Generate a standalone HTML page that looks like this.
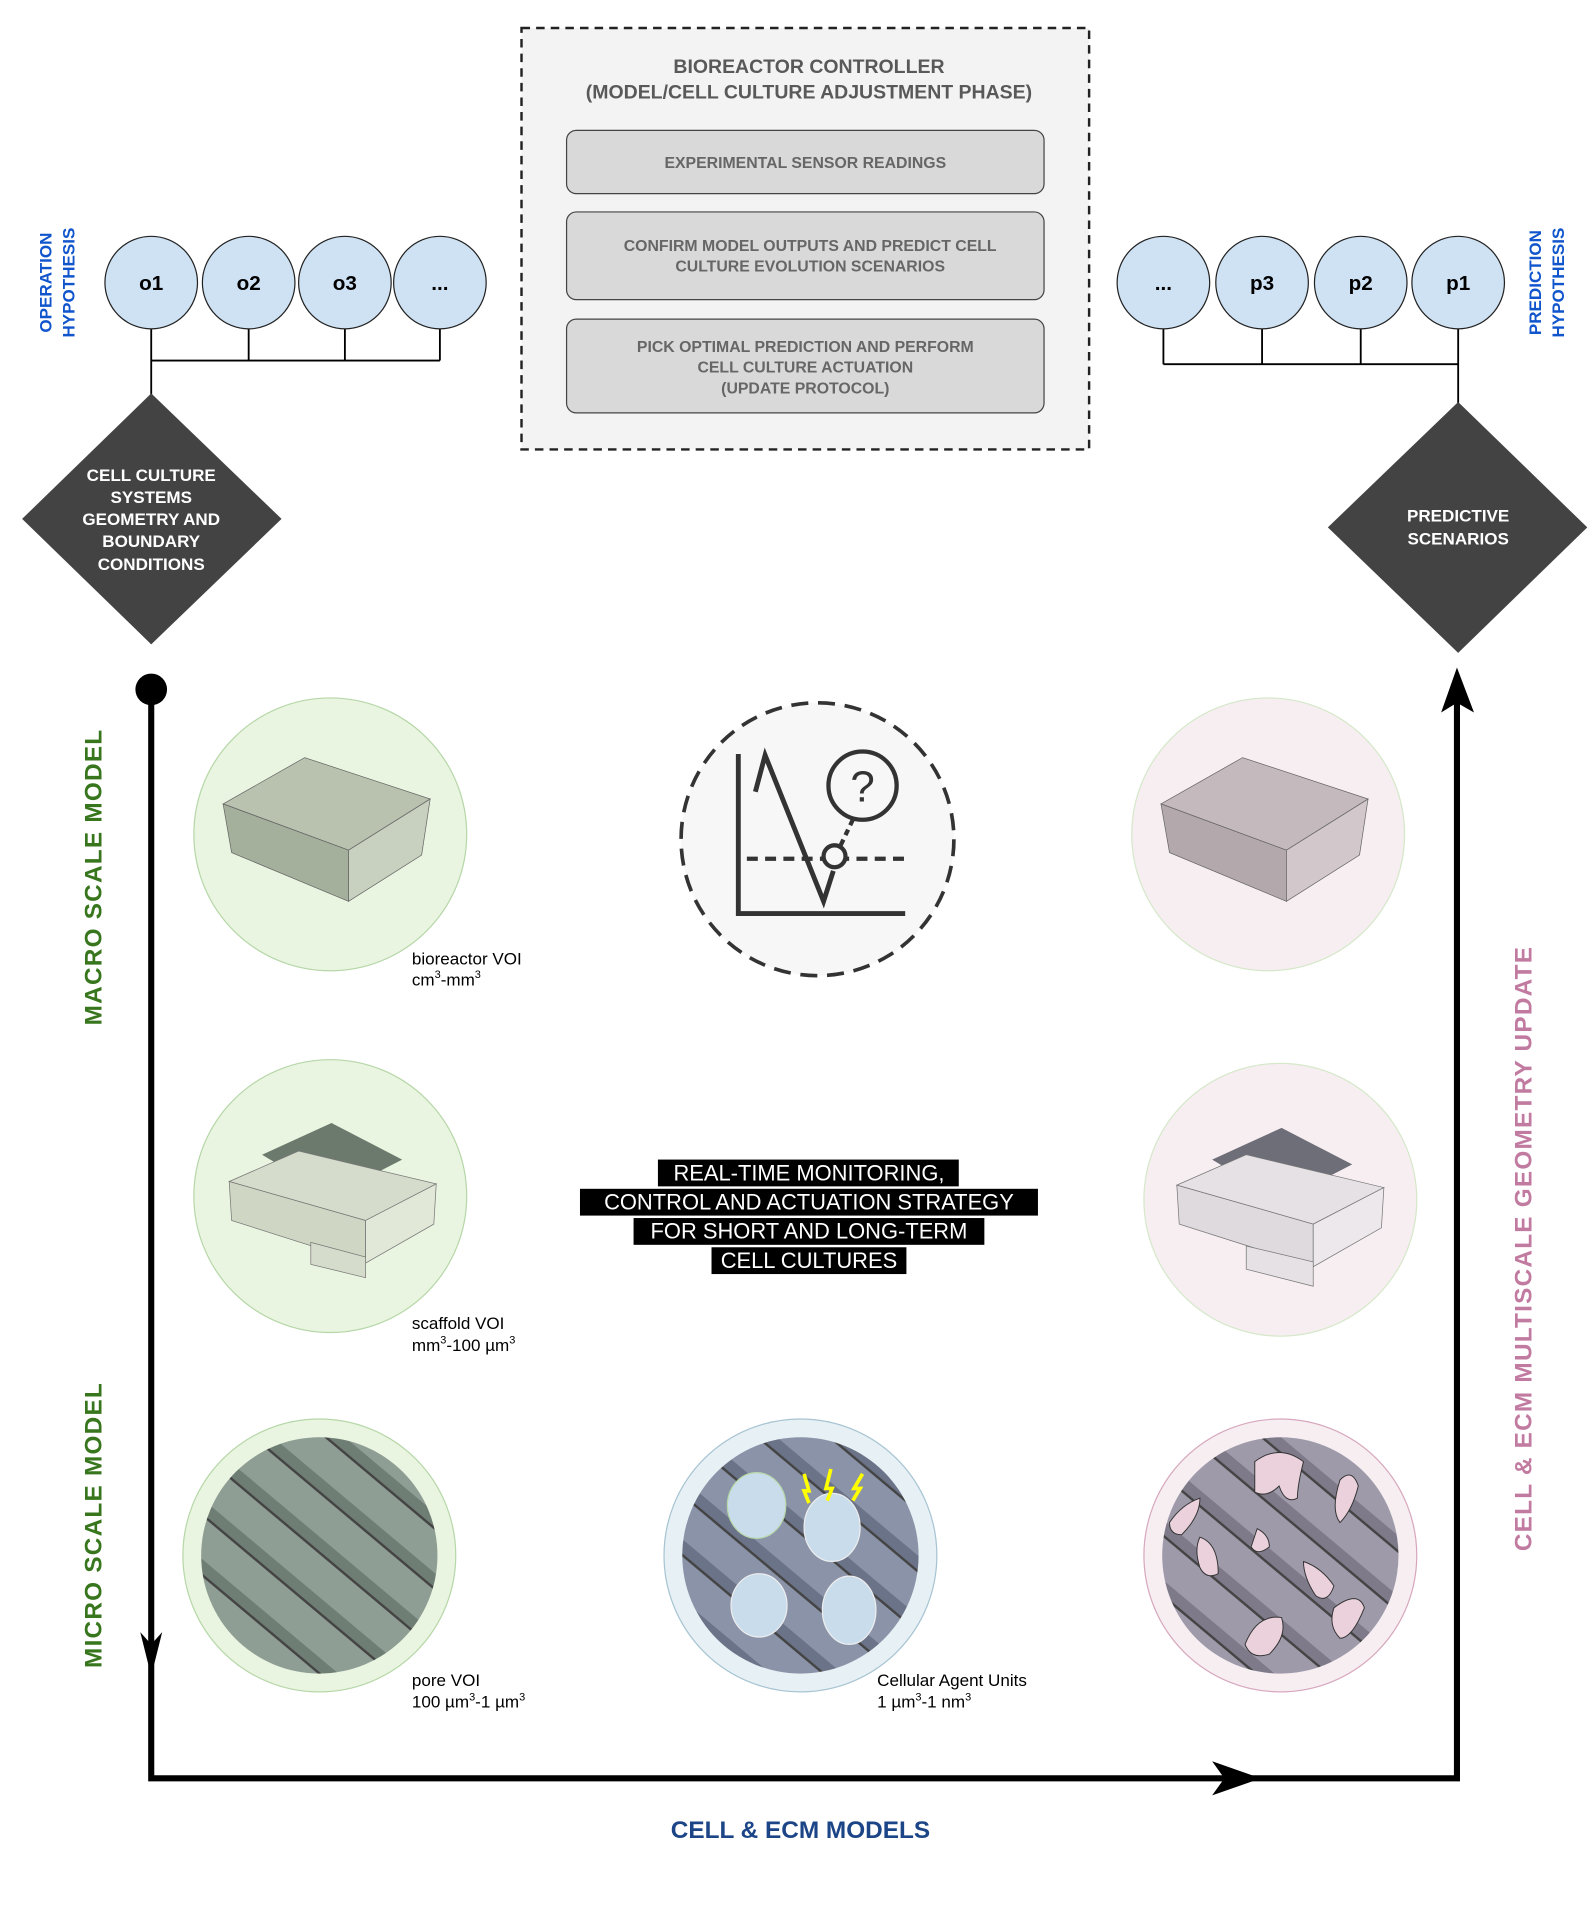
<!DOCTYPE html>
<html><head><meta charset="utf-8"><style>
html,body{margin:0;padding:0;background:#fff}
svg{display:block}
text{font-family:"Liberation Sans",sans-serif}
</style></head><body>
<svg width="1596" height="1905" viewBox="0 0 1310 1564" xmlns="http://www.w3.org/2000/svg">
<defs>
<pattern id="stripeG" width="38" height="38" patternUnits="userSpaceOnUse" patternTransform="rotate(40)">
<rect width="38" height="38" fill="#8f9e94"/><rect width="38" height="9" fill="#6f7e74"/><rect y="9" width="38" height="2" fill="#444"/></pattern>
<pattern id="stripeB" width="38" height="38" patternUnits="userSpaceOnUse" patternTransform="rotate(40)">
<rect width="38" height="38" fill="#8a93a8"/><rect width="38" height="9" fill="#6b7388"/><rect y="9" width="38" height="2" fill="#444"/></pattern>
<pattern id="stripeP" width="38" height="38" patternUnits="userSpaceOnUse" patternTransform="rotate(40)">
<rect width="38" height="38" fill="#9e9aaa"/><rect width="38" height="9" fill="#7e7a8a"/><rect y="9" width="38" height="2" fill="#444"/></pattern>
</defs>

<!-- controller box -->
<g>
<rect x="428" y="23" width="466" height="346" fill="#f3f3f3" stroke="#222" stroke-width="2" stroke-dasharray="7,5"/>
<text x="664" y="60" text-anchor="middle" font-size="16" font-weight="bold" fill="#595959">BIOREACTOR CONTROLLER</text>
<text x="664" y="81" text-anchor="middle" font-size="16" font-weight="bold" fill="#595959">(MODEL/CELL CULTURE ADJUSTMENT PHASE)</text>
<g>
<rect x="465" y="107" width="392" height="52" rx="8" fill="#d9d9d9" stroke="#444"/>
<text x="661" y="138" text-anchor="middle" font-size="13" font-weight="bold" fill="#666">EXPERIMENTAL SENSOR READINGS</text></g>
<g>
<rect x="465" y="174" width="392" height="72" rx="8" fill="#d9d9d9" stroke="#444"/>
<text x="665" y="206" text-anchor="middle" font-size="13" font-weight="bold" fill="#666">CONFIRM MODEL OUTPUTS AND PREDICT CELL</text>
<text x="665" y="223" text-anchor="middle" font-size="13" font-weight="bold" fill="#666">CULTURE EVOLUTION SCENARIOS</text></g>
<g>
<rect x="465" y="262" width="392" height="77" rx="8" fill="#d9d9d9" stroke="#444"/>
<text x="661" y="289" text-anchor="middle" font-size="13" font-weight="bold" fill="#666">PICK OPTIMAL PREDICTION AND PERFORM</text>
<text x="661" y="306" text-anchor="middle" font-size="13" font-weight="bold" fill="#666">CELL CULTURE ACTUATION</text>
<text x="661" y="323" text-anchor="middle" font-size="13" font-weight="bold" fill="#666">(UPDATE PROTOCOL)</text></g>
</g>

<!-- hypothesis labels -->
<text transform="translate(42,232) rotate(-90)" text-anchor="middle" font-size="14" font-weight="bold" fill="#1155cc">OPERATION</text>
<text transform="translate(61,232) rotate(-90)" text-anchor="middle" font-size="14" font-weight="bold" fill="#1155cc">HYPOTHESIS</text>
<text transform="translate(1265,232) rotate(-90)" text-anchor="middle" font-size="14" font-weight="bold" fill="#1155cc">PREDICTION</text>
<text transform="translate(1284,232) rotate(-90)" text-anchor="middle" font-size="14" font-weight="bold" fill="#1155cc">HYPOTHESIS</text>

<!-- connectors -->
<g stroke="#000" stroke-width="1.5" fill="none">
<path d="M124 270V296M204 270V296M283 270V296M361 270V296M124 296H361M124 296V325"/>
<path d="M955 270V299M1036 270V299M1117 270V299M1197 270V299M955 299H1197M1197 299V332"/>
</g>

<!-- operation nodes -->
<g font-size="17" font-weight="bold" text-anchor="middle">
<g><circle cx="124" cy="232" r="38" fill="#cfe2f3" stroke="#222"/><text x="124" y="238">o1</text></g>
<g><circle cx="204" cy="232" r="38" fill="#cfe2f3" stroke="#222"/><text x="204" y="238">o2</text></g>
<g><circle cx="283" cy="232" r="38" fill="#cfe2f3" stroke="#222"/><text x="283" y="238">o3</text></g>
<g><circle cx="361" cy="232" r="38" fill="#cfe2f3" stroke="#222"/><text x="361" y="238">...</text></g>
<g><circle cx="955" cy="232" r="38" fill="#cfe2f3" stroke="#222"/><text x="955" y="238">...</text></g>
<g><circle cx="1036" cy="232" r="38" fill="#cfe2f3" stroke="#222"/><text x="1036" y="238">p3</text></g>
<g><circle cx="1117" cy="232" r="38" fill="#cfe2f3" stroke="#222"/><text x="1117" y="238">p2</text></g>
<g><circle cx="1197" cy="232" r="38" fill="#cfe2f3" stroke="#222"/><text x="1197" y="238">p1</text></g>
</g>

<!-- diamonds -->
<g>
<polygon points="124,323 231,426 124,529 18,426" fill="#434343"/>
<g font-size="14" font-weight="bold" fill="#fff" text-anchor="middle">
<text x="124" y="395">CELL CULTURE</text><text x="124" y="413">SYSTEMS</text><text x="124" y="431">GEOMETRY AND</text><text x="124" y="449">BOUNDARY</text><text x="124" y="468">CONDITIONS</text></g></g>
<g>
<polygon points="1197,330 1303,433 1197,536 1090,433" fill="#434343"/>
<g font-size="14" font-weight="bold" fill="#fff" text-anchor="middle">
<text x="1197" y="428">PREDICTIVE</text><text x="1197" y="447">SCENARIOS</text></g></g>

<!-- main flow -->
<g>
<circle cx="124" cy="566" r="13" fill="#000"/>
<path d="M124 566V1460H1196V560" stroke="#000" stroke-width="5" fill="none"/>
<polygon points="115,1340 124,1376 133,1340 124,1350" fill="#000"/>
<polygon points="995,1446 1035,1460 995,1474 1005,1460" fill="#000"/>
<polygon points="1183,585 1196,548 1210,585 1196,577" fill="#000"/>
</g>

<text transform="translate(83,720) rotate(-90)" text-anchor="middle" font-size="20" font-weight="bold" fill="#38761d" letter-spacing="1">MACRO SCALE MODEL</text>
<text transform="translate(83,1252) rotate(-90)" text-anchor="middle" font-size="20" font-weight="bold" fill="#38761d" letter-spacing="1">MICRO SCALE MODEL</text>
<text transform="translate(1257,1025) rotate(-90)" text-anchor="middle" font-size="20" font-weight="bold" fill="#c27ba0" letter-spacing="1">CELL &amp; ECM MULTISCALE GEOMETRY UPDATE</text>
<text x="657" y="1509" text-anchor="middle" font-size="20" font-weight="bold" fill="#1c4587">CELL &amp; ECM MODELS</text>

<!-- circles macro -->
<g>
<circle cx="271" cy="685" r="112" fill="#eaf5e1" stroke="#b6d7a8"/>
<polygon points="183,660 250,622 353,656 286,698" fill="#b9c2af" stroke="#666" stroke-width=".6"/>
<polygon points="183,660 286,698 286,740 190,700" fill="#a5b09c" stroke="#666" stroke-width=".6"/>
<polygon points="286,698 353,656 346,702 286,740" fill="#c8d0bf" stroke="#666" stroke-width=".6"/>
<text x="338" y="792" font-size="14">bioreactor VOI</text>
<text x="338" y="809" font-size="14">cm<tspan font-size="9" dy="-6">3</tspan><tspan dy="6">-mm</tspan><tspan font-size="9" dy="-6">3</tspan></text>
</g>
<g>
<circle cx="271" cy="982" r="112" fill="#eaf5e1" stroke="#b6d7a8"/>
<polygon points="215,948 272,922 330,952 272,982" fill="#6c7a6e"/>
<polygon points="188,970 245,945 358,972 300,1002" fill="#d6dccb" stroke="#777" stroke-width=".6"/>
<polygon points="188,970 300,1002 300,1037 190,1002" fill="#cfd6c3" stroke="#777" stroke-width=".6"/>
<polygon points="300,1002 358,972 356,1005 300,1037" fill="#e2e8d8" stroke="#777" stroke-width=".6"/>
<polygon points="255,1020 300,1032 300,1049 255,1038" fill="#d6dccb" stroke="#777" stroke-width=".6"/>
<text x="338" y="1091" font-size="14">scaffold VOI</text>
<text x="338" y="1109" font-size="14">mm<tspan font-size="9" dy="-6">3</tspan><tspan dy="6">-100 µm</tspan><tspan font-size="9" dy="-6">3</tspan></text>
</g>
<g>
<circle cx="262" cy="1277" r="112" fill="#eaf5e1" stroke="#b6d7a8"/>
<circle cx="262" cy="1277" r="97" fill="url(#stripeG)"/>
<text x="338" y="1384" font-size="14">pore VOI</text>
<text x="338" y="1402" font-size="14">100 µm<tspan font-size="9" dy="-6">3</tspan><tspan dy="6">-1 µm</tspan><tspan font-size="9" dy="-6">3</tspan></text>
</g>

<!-- center icon -->
<g>
<circle cx="671" cy="689" r="112" fill="#f7f7f7" stroke="#333" stroke-width="3" stroke-dasharray="14,8"/>
<path d="M606 619V750H743" stroke="#333" stroke-width="4" fill="none"/>
<path d="M620 650L628 620L676 740L684 715" stroke="#333" stroke-width="4" fill="none"/>
<path d="M613 705H742" stroke="#333" stroke-width="3.5" stroke-dasharray="9,6"/>
<circle cx="685" cy="703" r="9" fill="#f7f7f7" stroke="#333" stroke-width="3.5"/>
<circle cx="708" cy="645" r="28" fill="#f7f7f7" stroke="#333" stroke-width="3.5"/>
<text x="708" y="658" text-anchor="middle" font-size="36" fill="#333">?</text>
<path d="M700 673L690 694" stroke="#333" stroke-width="3.5" stroke-dasharray="5,4"/>
</g>

<!-- center text -->
<g font-size="18" text-anchor="middle" fill="#fff">
<rect x="540" y="952" width="247" height="22" fill="#000"/><text x="664" y="969">REAL-TIME MONITORING,</text>
<rect x="476" y="976" width="376" height="22" fill="#000"/><text x="664" y="993">CONTROL AND ACTUATION STRATEGY</text>
<rect x="520" y="1000" width="288" height="22" fill="#000"/><text x="664" y="1017">FOR SHORT AND LONG-TERM</text>
<rect x="584" y="1024" width="160" height="22" fill="#000"/><text x="664" y="1041">CELL CULTURES</text>
</g>

<!-- cellular agents -->
<g>
<circle cx="657" cy="1277" r="112" fill="#e7f0f4" stroke="#a7c4d2"/>
<circle cx="657" cy="1277" r="97" fill="url(#stripeB)"/>
<ellipse cx="621" cy="1236" rx="24" ry="27" fill="#c9dcec" stroke="#b6d7a8"/>
<ellipse cx="683" cy="1254" rx="23" ry="28" fill="#c9dcec" stroke="#eee"/>
<ellipse cx="623" cy="1318" rx="23" ry="26" fill="#c9dcec" stroke="#eee"/>
<ellipse cx="697" cy="1322" rx="22" ry="28" fill="#c9dcec" stroke="#eee"/>
<path d="M660 1210l4 14-4 0 4 10M682 1206l-4 16 5 0-4 10M708 1210l-7 12 5 0-6 10" stroke="#ff0" stroke-width="3" fill="none"/>
<text x="720" y="1384" font-size="14">Cellular Agent Units</text>
<text x="720" y="1402" font-size="14">1 µm<tspan font-size="9" dy="-6">3</tspan><tspan dy="6">-1 nm</tspan><tspan font-size="9" dy="-6">3</tspan></text>
</g>

<!-- right pink circles -->
<g>
<circle cx="1041" cy="685" r="112" fill="#f7eef2" stroke="#d5e8c9"/>
<polygon points="953,660 1020,622 1123,656 1056,698" fill="#c4b9bd" stroke="#666" stroke-width=".6"/>
<polygon points="953,660 1056,698 1056,740 960,700" fill="#b3a8ac" stroke="#666" stroke-width=".6"/>
<polygon points="1056,698 1123,656 1116,702 1056,740" fill="#d2c8cc" stroke="#666" stroke-width=".6"/>
</g>
<g>
<circle cx="1051" cy="985" r="112" fill="#f7eef2" stroke="#d5e8c9"/>
<polygon points="995,952 1052,926 1110,956 1052,986" fill="#6e6e78"/>
<polygon points="966,973 1023,948 1136,975 1078,1005" fill="#e5e1e4" stroke="#777" stroke-width=".6"/>
<polygon points="966,973 1078,1005 1078,1040 968,1005" fill="#dedade" stroke="#777" stroke-width=".6"/>
<polygon points="1078,1005 1136,975 1134,1008 1078,1040" fill="#ece8eb" stroke="#777" stroke-width=".6"/>
<polygon points="1023,1023 1078,1036 1078,1056 1023,1042" fill="#e5e1e4" stroke="#777" stroke-width=".6"/>
</g>
<g>
<circle cx="1051" cy="1277" r="112" fill="#f7eef2" stroke="#d7a8bd"/>
<circle cx="1051" cy="1277" r="97" fill="url(#stripeP)"/>
<g fill="#ead1dc" stroke="#333" stroke-width=".8">
<path d="M1030 1200q20-15 40 0q-5 20-5 30q-10 5-15-10q-10 10-20 5z"/>
<path d="M1100 1215q10-10 15 5q-5 20-15 30q-8-10 0-35z"/>
<path d="M960 1250q10-15 25-20q0 15-15 30q-10 0-10-10z"/>
<path d="M985 1262q15 5 15 30q-10 5-15-5q-5-15 0-25z"/>
<path d="M1032 1255q10 5 10 15q-10 8-15 0z"/>
<path d="M1070 1282q15 5 25 20q-5 15-15 8q-10-15-10-28z"/>
<path d="M1095 1320q20-15 25 0q-10 25-20 25q-10-10-5-25z"/>
<path d="M1022 1350q10-25 30-22q5 15-10 30q-15 5-20-8z"/>
</g>
</g>
</svg>
</body></html>
